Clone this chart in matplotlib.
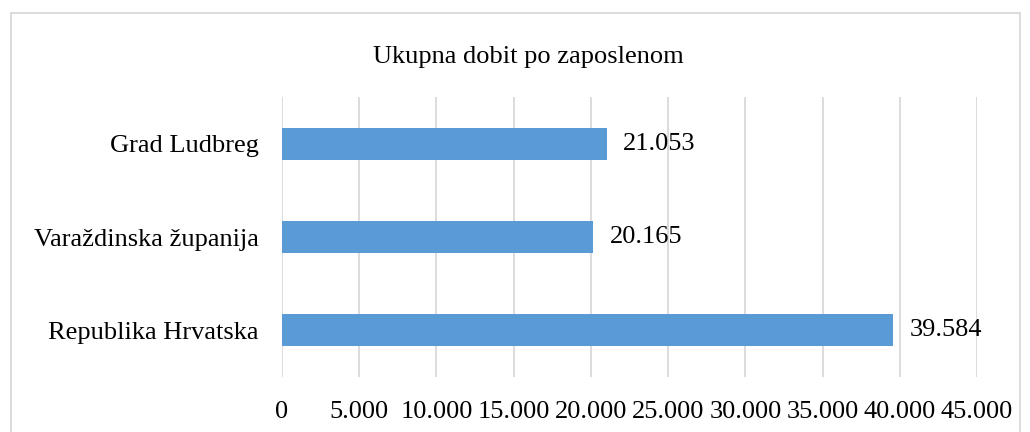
import matplotlib
matplotlib.use("Agg")
import matplotlib.pyplot as plt
from matplotlib.patches import Rectangle

categories = ["Republika Hrvatska", "Varaždinska županija", "Grad Ludbreg"]
values = [39584, 20165, 21053]
value_labels = ["39.584", "20.165", "21.053"]
xticks = [0, 5000, 10000, 15000, 20000, 25000, 30000, 35000, 40000, 45000]
xtick_labels = ["0", "5.000", "10.000", "15.000", "20.000", "25.000",
                "30.000", "35.000", "40.000", "45.000"]
title = "Ukupna dobit po zaposlenom"

W, H = 1030, 432
FS = 19
plt.rcParams['font.family'] = ['Liberation Serif', 'DejaVu Serif']
fig = plt.figure(figsize=(W / 100, H / 100), dpi=100)

# axes: x 282..977, y 97..377 (pixels from top)
ax = fig.add_axes([282 / W, 1 - 377 / H, (977 - 282) / W, (377 - 97) / H])
ypos = list(range(len(categories)))
ax.barh(ypos, values, height=0.343, color="#5b9bd5", zorder=3)
ax.set_xlim(0, 45000)
ax.set_ylim(-0.5, len(categories) - 0.5)
ax.set_xticks(xticks)
ax.set_xticklabels(xtick_labels, fontsize=FS)
ax.set_yticks(ypos)
ax.set_yticklabels(categories, fontsize=FS)
ax.tick_params(axis='both', length=0, colors="#000000")
ax.tick_params(axis='x', pad=17.5)
ax.tick_params(axis='y', pad=17)
ax.grid(axis='x', color="#d9d9d9", linewidth=1.3, zorder=0)
for s in ax.spines.values():
    s.set_visible(False)

for y, v, lab in zip(ypos, values, value_labels):
    ax.annotate(lab, xy=(v, y), xytext=(11.5, 0), textcoords="offset points",
                va="center", ha="left", fontsize=FS)

fig.text(528 / W, 1 - 57 / H, title, ha="center", va="center", fontsize=FS)

fig.patches.append(Rectangle((11 / W, -0.01), (1020 - 11) / W, (H - 13) / H + 0.01,
                             transform=fig.transFigure, fill=False,
                             edgecolor="#d9d9d9", linewidth=1.3))

fig.savefig("out.png", dpi=100)
